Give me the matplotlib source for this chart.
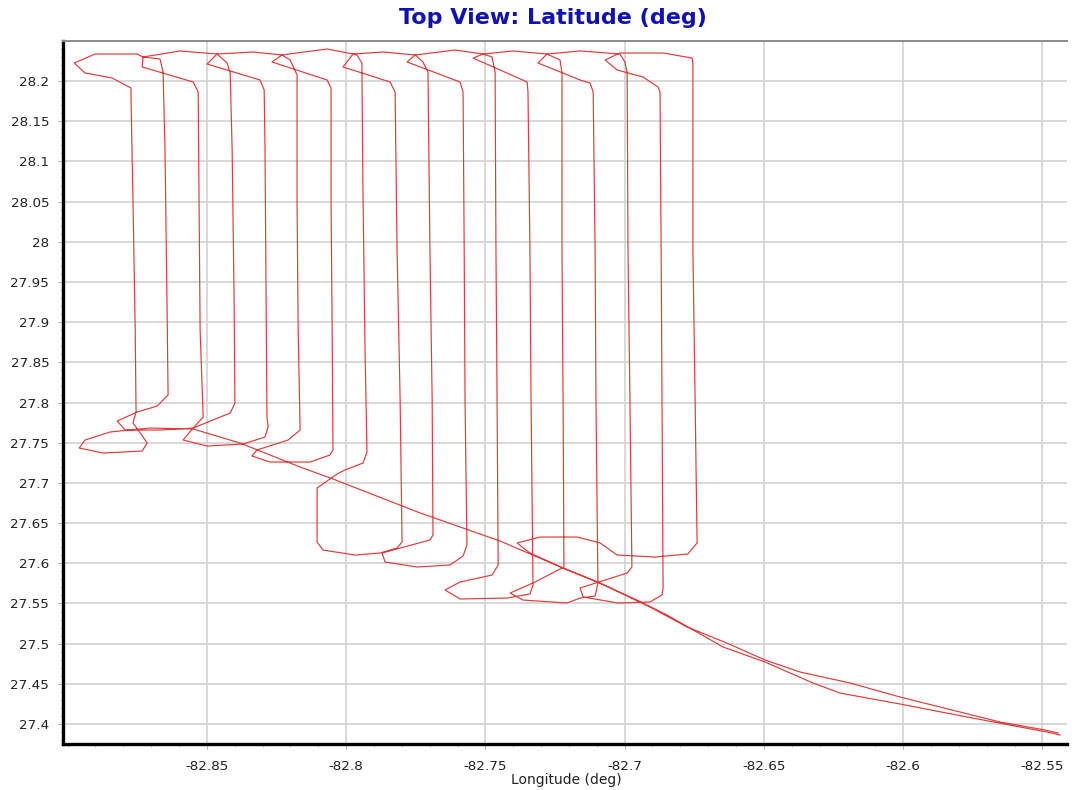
import matplotlib
matplotlib.use("Agg")
import matplotlib.pyplot as plt
from matplotlib.ticker import MultipleLocator, FuncFormatter
import numpy as np

# ---------------- data (longitude / latitude, degrees) ----------------
inbound_lon = [-82.5444, -82.5491, -82.5653, -82.5796, -82.6012, -82.6191, -82.6371, -82.6496,
               -82.6633, -82.6776, -82.6909, -82.7088, -82.7221, -82.7447, -82.7734, -82.8047,
               -82.8165, -82.8381, -82.8549, -82.8704, -82.8847, -82.8937, -82.8958, -82.8872,
               -82.8732, -82.8714, -82.8739, -82.8765, -82.8754]
inbound_lat = [27.3889, 27.3926, 27.4026, 27.4150, 27.4337, 27.4511, 27.4648, 27.4797,
               27.5008, 27.5208, 27.5456, 27.5755, 27.5941, 27.6277, 27.6626, 27.7049,
               27.7198, 27.7497, 27.7671, 27.7683, 27.7634, 27.7534, 27.7434, 27.7372,
               27.7397, 27.7497, 27.7621, 27.7746, 27.7882]

survey_lon = [
    -82.8757, -82.8765, -82.8772, -82.8772,
    -82.8840, -82.8937, -82.8976, -82.8901, -82.8750, -82.8729, -82.8668, -82.8657,
    -82.8650, -82.8643, -82.8639,
    -82.8678, -82.8750, -82.8822, -82.8793, -82.8668, -82.8549, -82.8416, -82.8399,
    -82.8402, -82.8409, -82.8416,
    -82.8427, -82.8463, -82.8596, -82.8729, -82.8732, -82.8549, -82.8531,
    -82.8528, -82.8524, -82.8513,
    -82.8549, -82.8585, -82.8499, -82.8370, -82.8291, -82.8280, -82.8284,
    -82.8287, -82.8291, -82.8294,
    -82.8309, -82.8499, -82.8463, -82.8334, -82.8230, -82.8201, -82.8176,
    -82.8176, -82.8172, -82.8165,
    -82.8208, -82.8320, -82.8338, -82.8273, -82.8129, -82.8058, -82.8047,
    -82.8050, -82.8054, -82.8054,
    -82.8068, -82.8266, -82.8230, -82.8068, -82.7975, -82.7961, -82.7943, -82.7943,
    -82.7939, -82.7932, -82.7925,
    -82.7939, -82.8004, -82.8032, -82.8104, -82.8104, -82.8083, -82.7968, -82.7878, -82.7817, -82.7799,
    -82.7806, -82.7817, -82.7824,
    -82.7842, -82.8011, -82.7975, -82.7867, -82.7752, -82.7724, -82.7706,
    -82.7699, -82.7691, -82.7688,
    -82.7699, -82.7806, -82.7871, -82.7860, -82.7745, -82.7627, -82.7580, -82.7566,
    -82.7573, -82.7576, -82.7580,
    -82.7591, -82.7781, -82.7752, -82.7609, -82.7508, -82.7476, -82.7465,
    -82.7462, -82.7458, -82.7454,
    -82.7476, -82.7591, -82.7645, -82.7591, -82.7422, -82.7340, -82.7329,
    -82.7336, -82.7340, -82.7347,
    -82.7350, -82.7544, -82.7508, -82.7401, -82.7279, -82.7232, -82.7225,
    -82.7225, -82.7221, -82.7218,
    -82.7322, -82.7411, -82.7365, -82.7207, -82.7160, -82.7106, -82.7096,
    -82.7103, -82.7106, -82.7113,
    -82.7124, -82.7160, -82.7311, -82.7279, -82.7160, -82.7017, -82.6999, -82.6991,
    -82.6988, -82.6981, -82.6974,
    -82.6991, -82.7160, -82.7149, -82.7024, -82.6909, -82.6866, -82.6862,
    -82.6866, -82.6869, -82.6873,
    -82.6880, -82.6934, -82.7027, -82.7070, -82.7017, -82.6862, -82.6758, -82.6755,
    -82.6755, -82.6747, -82.6740,
]
survey_lat = [
    27.8903, 28.0520, 28.1764, 28.1913,
    28.2038, 28.2100, 28.2224, 28.2336, 28.2336, 28.2299, 28.2274, 28.2112,
    28.1142, 27.9276, 27.8094,
    27.7957, 27.7882, 27.7770, 27.7658, 27.7658, 27.7683, 27.7870, 27.7994,
    27.9276, 28.1142, 28.2100,
    28.2224, 28.2336, 28.2374, 28.2299, 28.2175, 28.1988, 28.1863,
    28.0520, 27.8903, 27.7820,
    27.7683, 27.7534, 27.7459, 27.7484, 27.7571, 27.7696, 27.7820,
    27.9276, 28.1142, 28.1888,
    28.2013, 28.2212, 28.2336, 28.2361, 28.2324, 28.2262, 28.2075,
    28.0520, 27.8903, 27.7658,
    27.7534, 27.7410, 27.7335, 27.7260, 27.7260, 27.7347, 27.7410,
    27.8903, 28.0520, 28.1913,
    28.2013, 28.2237, 28.2324, 28.2398, 28.2336, 28.2324, 28.2224, 28.2075,
    28.0520, 27.8654, 27.7385,
    27.7248, 27.7161, 27.7111, 27.6937, 27.6265, 27.6165, 27.6103, 27.6128, 27.6190, 27.6265,
    27.8032, 27.9898, 28.1863,
    28.1988, 28.2175, 28.2336, 28.2361, 28.2324, 28.2237, 28.2112,
    27.9898, 27.8032, 27.6352,
    27.6290, 27.6190, 27.6128, 27.6016, 27.5954, 27.5979, 27.6091, 27.6228,
    27.8032, 27.9898, 28.1863,
    28.1988, 28.2237, 28.2324, 28.2386, 28.2336, 28.2299, 28.2112,
    27.9898, 27.8032, 27.5979,
    27.5854, 27.5767, 27.5668, 27.5556, 27.5568, 27.5618, 27.5730,
    27.8032, 27.9898, 28.1863,
    28.1988, 28.2286, 28.2336, 28.2374, 28.2336, 28.2262, 28.2100,
    27.9898, 27.8032, 27.5954,
    27.5767, 27.5630, 27.5543, 27.5506, 27.5568, 27.5593, 27.5755,
    27.8032, 27.9898, 28.1863,
    28.1975, 28.2013, 28.2224, 28.2336, 28.2374, 28.2336, 28.2237, 28.2100,
    27.9898, 27.8032, 27.5954,
    27.5879, 27.5693, 27.5581, 27.5506, 27.5519, 27.5606, 27.5693,
    27.8032, 27.9898, 28.1863,
    28.1926, 28.2050, 28.2137, 28.2262, 28.2349, 28.2349, 28.2286, 28.2224,
    27.9898, 27.8032, 27.6253,
]

outbound_lon = [-82.6773, -82.6891, -82.7027, -82.7088, -82.7171, -82.7304, -82.7386, -82.7340,
                -82.7221, -82.7099, -82.6956, -82.6848, -82.6647, -82.6496, -82.6324, -82.6227,
                -82.6012, -82.5771, -82.5484, -82.5437]
outbound_lat = [27.6116, 27.6078, 27.6103, 27.6253, 27.6327, 27.6327, 27.6253, 27.6128,
                27.5941, 27.5767, 27.5543, 27.5357, 27.4959, 27.4772, 27.4511, 27.4386,
                27.4250, 27.4088, 27.3901, 27.3864]

x_ticks = [-82.85, -82.8, -82.75, -82.7, -82.65, -82.6, -82.55]
y_ticks = [27.4, 27.45, 27.5, 27.55, 27.6, 27.65, 27.7, 27.75, 27.8, 27.85,
           27.9, 27.95, 28.0, 28.05, 28.1, 28.15, 28.2]

title_text = "Top View: Latitude (deg)"
xlabel_text = "Longitude (deg)"

# ---------------- figure ----------------
W, H = 1072, 790
fig = plt.figure(figsize=(W / 100, H / 100), dpi=100)
ax = fig.add_axes([62.5 / W, 1 - 744 / H, (1067 - 62.5) / W, (744 - 41) / H])

path_lon = np.concatenate([inbound_lon, survey_lon, outbound_lon])
path_lat = np.concatenate([inbound_lat, survey_lat, outbound_lat])
ax.plot(path_lon, path_lat, color="#e03a3a", lw=0.85, zorder=3)

ax.set_xlim(-82.9018, -82.5412)
ax.set_ylim(27.3752, 28.2498)

ax.set_xticks(x_ticks)
ax.set_yticks(y_ticks)
ax.xaxis.set_minor_locator(MultipleLocator(0.01))
ax.yaxis.set_minor_locator(MultipleLocator(0.01))
fmt = FuncFormatter(lambda v, p: f"{round(v, 3):g}")
ax.xaxis.set_major_formatter(fmt)
ax.yaxis.set_major_formatter(fmt)

ax.grid(True, which="major", color="#d6d6d6", lw=1.3, zorder=0)
ax.set_axisbelow(True)

for lab in ax.get_xticklabels() + ax.get_yticklabels():
    lab.set_fontfamily("DejaVu Sans")
ax.tick_params(which="major", direction="out", length=3.5, width=0.8, color="#b5b5b5",
               labelsize=9.7, labelcolor="#222222", pad=6)
ax.tick_params(which="minor", direction="out", length=2.5, width=0.8, color="#c4c4c4")
ax.tick_params(axis="x", pad=8)

ax.spines["left"].set_linewidth(2.4)
ax.spines["left"].set_color("black")
ax.spines["bottom"].set_linewidth(2.4)
ax.spines["bottom"].set_color("black")
ax.spines["top"].set_linewidth(1.4)
ax.spines["top"].set_color("#8a8a8a")
ax.spines["right"].set_visible(False)

fig.text(553 / W, 1 - 18 / H, title_text, ha="center", va="center",
         fontsize=16, fontweight="bold", color="#1010b8", family="DejaVu Sans")
fig.text(566 / W, 1 - 780 / H, xlabel_text, ha="center", va="center",
         fontsize=10, color="#222222", family="DejaVu Sans")

fig.savefig("out.png", dpi=100, facecolor="white")
